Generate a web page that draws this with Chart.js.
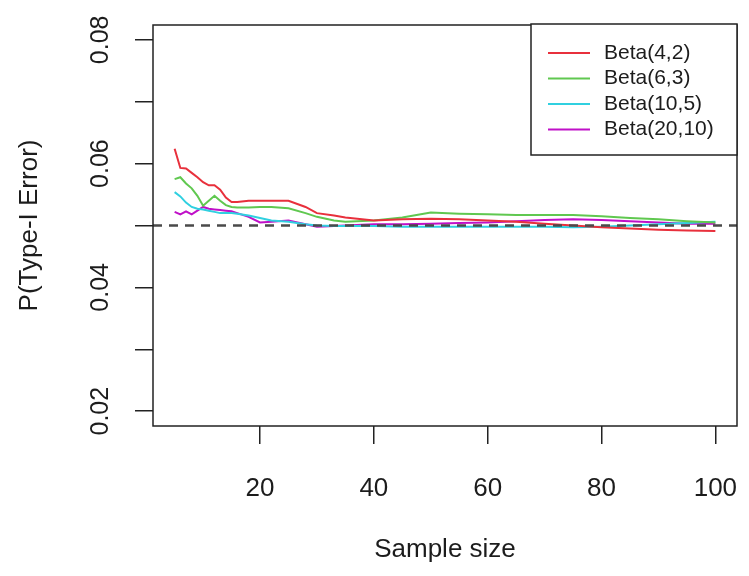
<!DOCTYPE html>
<html>
<head>
<meta charset="utf-8">
<script src="https://cdn.jsdelivr.net/npm/chart.js@4/dist/chart.umd.min.js"></script>
<style>
  html, body { margin: 0; padding: 0; background: #fff; }
  #c { display: block; }
</style>
</head>
<body>
<canvas id="c" width="749" height="576"></canvas>
<script>
// sample sizes (x) and type-I error rates
var sampleSizes = [5,6,7,8,9,10,11,12,13,14,15,16,18,20,22,25,28,30,33,35,40,45,50,55,60,65,70,75,80,85,90,95,100];
var beta42  = [0.0624,0.0593,0.0592,0.0585,0.0578,0.0570,0.0565,0.0565,0.0558,0.0545,0.0538,0.0538,0.0540,0.0540,0.0540,0.0540,0.0530,0.0520,0.0516,0.0513,0.0508,0.0510,0.0511,0.0510,0.0508,0.0506,0.0503,0.0500,0.0497,0.0495,0.0493,0.0492,0.0491];
var beta63  = [0.0575,0.0578,0.0568,0.0560,0.0548,0.0532,0.0540,0.0548,0.0540,0.0533,0.0530,0.0529,0.0529,0.0530,0.0530,0.0528,0.0520,0.0514,0.0508,0.0506,0.0508,0.0513,0.0521,0.0519,0.0518,0.0517,0.0517,0.0517,0.0515,0.0512,0.0510,0.0507,0.0505];
var beta105 = [0.0554,0.0547,0.0537,0.0530,0.0527,0.0526,0.0524,0.0522,0.0520,0.0520,0.0520,0.0519,0.0516,0.0512,0.0508,0.0506,0.0502,0.0500,0.0499,0.0499,0.0499,0.0498,0.0498,0.0498,0.0498,0.0498,0.0498,0.0497,0.0498,0.0500,0.0502,0.0504,0.0506];
var beta2010= [0.0522,0.0518,0.0523,0.0518,0.0524,0.0530,0.0527,0.0526,0.0525,0.0524,0.0523,0.0520,0.0514,0.0505,0.0506,0.0508,0.0502,0.0498,0.0499,0.0500,0.0502,0.0502,0.0503,0.0504,0.0505,0.0507,0.0509,0.0510,0.0509,0.0507,0.0505,0.0503,0.0503];
var seriesLabels = ["Beta(4,2)", "Beta(6,3)", "Beta(10,5)", "Beta(20,10)"];
var seriesColors = ["#e8303c", "#60c850", "#30d0e0", "#c010c8"];
var xTicks = [20, 40, 60, 80, 100];
var yTicks = [0.02, 0.03, 0.04, 0.05, 0.06, 0.07, 0.08];
var yLabelTicks = [0.02, 0.04, 0.06, 0.08];
var refLevel = 0.05;

function toPoints(vals) {
    var pts = [];
    for (var i = 0; i < sampleSizes.length; i++) {
        pts.push({x: sampleSizes[i], y: vals[i]});
    }
    return pts;
}

var allSeries = [beta42, beta63, beta105, beta2010];
var datasets = [];
for (var i = 0; i < allSeries.length; i++) {
    datasets.push({
        label: seriesLabels[i],
        data: toPoints(allSeries[i]),
        borderColor: seriesColors[i],
        backgroundColor: seriesColors[i],
        borderWidth: 2,
        pointRadius: 0,
        tension: 0,
        fill: false
    });
}

var textColor = "#1c1c1c";
var fontFamily = "'Liberation Sans', Arial, Helvetica, sans-serif";

// box, dashed reference line, rotated y labels and legend (R style)
var rStyle = {
    id: "rStyle",
    afterDatasetsDraw: function (chart) {
        var ctx = chart.ctx;
        var a = chart.chartArea;
        var ys = chart.scales.y;

        // dashed line at the nominal level
        var yRef = ys.getPixelForValue(refLevel);
        ctx.save();
        ctx.strokeStyle = "#4a4a4a";
        ctx.lineWidth = 2.5;
        ctx.setLineDash([9, 7]);
        ctx.beginPath();
        ctx.moveTo(a.left, yRef);
        ctx.lineTo(a.right, yRef);
        ctx.stroke();
        ctx.restore();

        // plot box
        ctx.save();
        ctx.strokeStyle = "#222";
        ctx.lineWidth = 1.5;
        ctx.strokeRect(a.left, a.top, a.right - a.left, a.bottom - a.top);
        ctx.restore();

        // y tick labels, rotated like R's las=0
        ctx.save();
        ctx.fillStyle = textColor;
        ctx.font = "25px " + fontFamily;
        ctx.textAlign = "center";
        ctx.textBaseline = "middle";
        for (var i = 0; i < yLabelTicks.length; i++) {
            var py = ys.getPixelForValue(yLabelTicks[i]);
            ctx.save();
            ctx.translate(101, py);
            ctx.rotate(-Math.PI / 2);
            ctx.fillText(yLabelTicks[i].toFixed(2), 0, 0);
            ctx.restore();
        }
        ctx.restore();

        // legend in the top right corner
        var lw = 206, lh = 131;
        var lx = a.right - lw, ly = a.top - 1;
        ctx.save();
        ctx.fillStyle = "#fff";
        ctx.fillRect(lx, ly, lw, lh);
        ctx.strokeStyle = "#222";
        ctx.lineWidth = 1.5;
        ctx.strokeRect(lx, ly, lw, lh);
        ctx.font = "21px " + fontFamily;
        ctx.textBaseline = "middle";
        ctx.textAlign = "left";
        chart.data.datasets.forEach(function (ds, i) {
            var yy = ly + 29 + i * 25.5;
            ctx.strokeStyle = ds.borderColor;
            ctx.lineWidth = 2;
            ctx.beginPath();
            ctx.moveTo(lx + 17, yy);
            ctx.lineTo(lx + 59, yy);
            ctx.stroke();
            ctx.fillStyle = textColor;
            ctx.fillText(ds.label, lx + 73, yy);
        });
        ctx.restore();
    }
};

new Chart(document.getElementById("c"), {
    type: "line",
    data: { datasets: datasets },
    options: {
        responsive: false,
        animation: false,
        layout: { padding: { top: 25, right: 12, left: 0, bottom: 0 } },
        plugins: {
            legend: { display: false },
            tooltip: { enabled: false }
        },
        scales: {
            x: {
                type: "linear",
                min: 1.2,
                max: 103.8,
                afterBuildTicks: function (scale) {
                    scale.ticks = xTicks.map(function (v) { return {value: v}; });
                },
                afterFit: function (scale) {
                    scale.height = 150;
                    scale.paddingLeft = 0;
                    scale.paddingRight = 0;
                },
                grid: {
                    drawOnChartArea: false,
                    drawTicks: true,
                    tickLength: 18,
                    color: "#222",
                    lineWidth: 1.5
                },
                border: { display: false },
                ticks: {
                    autoSkip: false,
                    maxRotation: 0,
                    padding: 29,
                    color: textColor,
                    font: { size: 26, family: fontFamily },
                    callback: function (v) { return v; }
                },
                title: {
                    display: true,
                    text: "Sample size",
                    color: textColor,
                    font: { size: 26, family: fontFamily },
                    padding: { top: 0, bottom: 11 }
                }
            },
            y: {
                type: "linear",
                min: 0.0176,
                max: 0.0824,
                afterBuildTicks: function (scale) {
                    scale.ticks = yTicks.map(function (v) { return {value: v}; });
                },
                afterFit: function (scale) {
                    scale.width = 153;
                    scale.paddingTop = 0;
                    scale.paddingBottom = 0;
                },
                grid: {
                    drawOnChartArea: false,
                    drawTicks: true,
                    tickLength: 18,
                    color: "#222",
                    lineWidth: 1.5
                },
                border: { display: false },
                ticks: { display: false },
                title: {
                    display: true,
                    text: "P(Type-I Error)",
                    color: textColor,
                    font: { size: 26, family: fontFamily },
                    padding: { top: 14, bottom: 0 }
                }
            }
        }
    },
    plugins: [rStyle]
});
</script>
</body>
</html>
